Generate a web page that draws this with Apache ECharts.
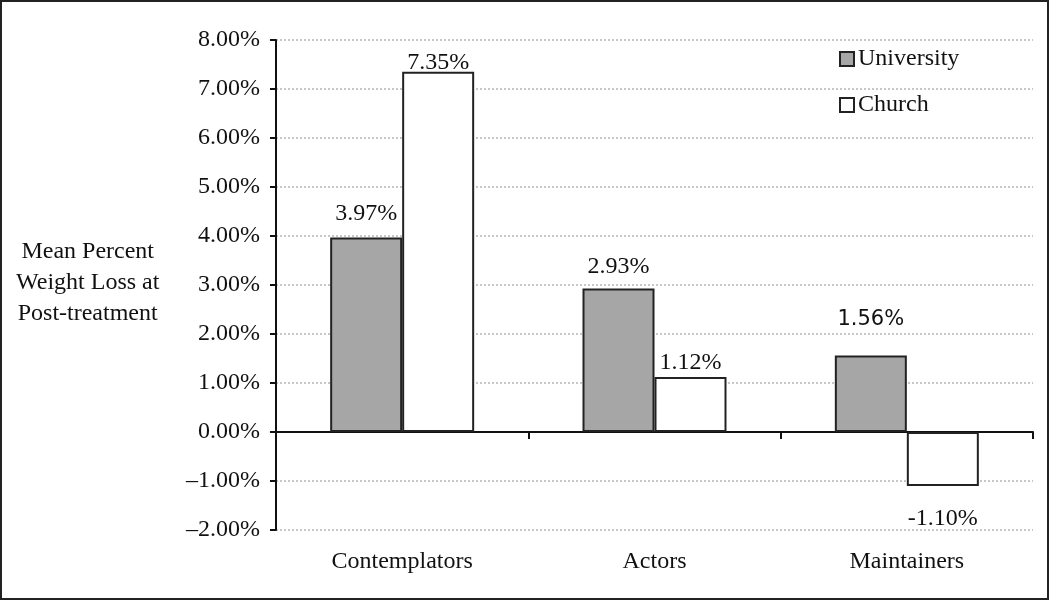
<!DOCTYPE html>
<html>
<head>
<meta charset="utf-8">
<script src="https://cdn.jsdelivr.net/npm/echarts@6/dist/echarts.min.js"></script>
<style>
  html, body { margin: 0; padding: 0; background: #fff; }
  #main { width: 1050px; height: 602px; }
</style>
</head>
<body>
<div id="main"></div>
<script>
var categories = ['Contemplators', 'Actors', 'Maintainers'];
var university = [3.97, 2.93, 1.56];
var church = [7.35, 1.12, -1.10];
var yTicks = [-2, -1, 0, 1, 2, 3, 4, 5, 6, 7, 8];

var serif = '"Liberation Serif", "Times New Roman", serif';

var chart = echarts.init(document.getElementById('main'));

function fmtTick(v) {
  var s = Math.abs(v).toFixed(2) + '%';
  return v < 0 ? '\u2013' + s : s;
}

var option = {
  animation: false,
  textStyle: { fontFamily: serif, color: '#111' },
  graphic: [
    {
      type: 'rect',
      shape: { x: 1, y: 1, width: 1047, height: 598 },
      style: { fill: 'none', stroke: '#222', lineWidth: 2 },
      silent: true
    },
    {
      type: 'text',
      left: 16,
      top: 236,
      style: {
        text: 'Mean Percent\nWeight Loss at\nPost-treatment',
        font: '24px ' + serif,
        fill: '#111',
        textAlign: 'center',
        lineHeight: 31
      }
    }
  ],
  legend: {
    orient: 'vertical',
    left: 834,
    top: 42,
    itemGap: 22,
    itemWidth: 14,
    itemHeight: 14,
    icon: 'rect',
    textStyle: { fontFamily: serif, fontSize: 24, color: '#111', padding: [0, 0, 0, -1] },
    data: ['University', 'Church']
  },
  grid: { left: 276, right: 17, top: 40, bottom: 72, containLabel: false, outerBoundsMode: 'none' },
  xAxis: [
    {
      type: 'category',
      data: categories,
      axisLine: { onZero: true, lineStyle: { color: '#111', width: 2 } },
      axisTick: { show: true, length: 7, lineStyle: { color: '#111', width: 2 } },
      axisLabel: { show: false }
    },
    {
      type: 'category',
      data: categories,
      position: 'bottom',
      axisLine: { show: false, onZero: false },
      axisTick: { show: false },
      axisLabel: { margin: 20, fontFamily: serif, fontSize: 24, color: '#111' }
    }
  ],
  yAxis: {
    type: 'value',
    min: yTicks[0],
    max: yTicks[yTicks.length - 1],
    interval: 1,
    axisLine: { show: true, lineStyle: { color: '#111', width: 2 } },
    axisTick: { show: true, length: 6, lineStyle: { color: '#111', width: 2 } },
    axisLabel: { formatter: fmtTick, margin: 16, fontFamily: serif, fontSize: 24, color: '#111' },
    splitLine: { show: true, lineStyle: { type: [2, 2], color: '#b5b5b5', width: 1.5 } }
  },
  series: [
    {
      name: 'University',
      type: 'bar',
      barWidth: 72,
      barGap: '0%',
      itemStyle: { color: '#a6a6a6', borderColor: '#222', borderWidth: 2 },
      data: university.map(function (v, i) {
        var d = [12, 10, 26][i];
        var item = {
          value: v,
          label: { show: true, position: 'top', distance: d, formatter: v.toFixed(2) + '%', fontSize: 24, color: '#111', fontFamily: serif }
        };
        if (i === 2) {
          item.label.fontFamily = '"DejaVu Sans", "Liberation Sans", sans-serif';
          item.label.fontSize = 21;
        }
        return item;
      })
    },
    {
      name: 'Church',
      type: 'bar',
      barWidth: 72,
      barGap: '0%',
      itemStyle: { color: '#ffffff', borderColor: '#222', borderWidth: 2 },
      data: church.map(function (v, i) {
        var d = [-3, 2, 21][i];
        return {
          value: v,
          label: { show: true, position: v < 0 ? 'bottom' : 'top', distance: d, formatter: v.toFixed(2) + '%', fontSize: 24, color: '#111', fontFamily: serif }
        };
      })
    }
  ]
};

chart.setOption(option);
</script>
</body>
</html>
